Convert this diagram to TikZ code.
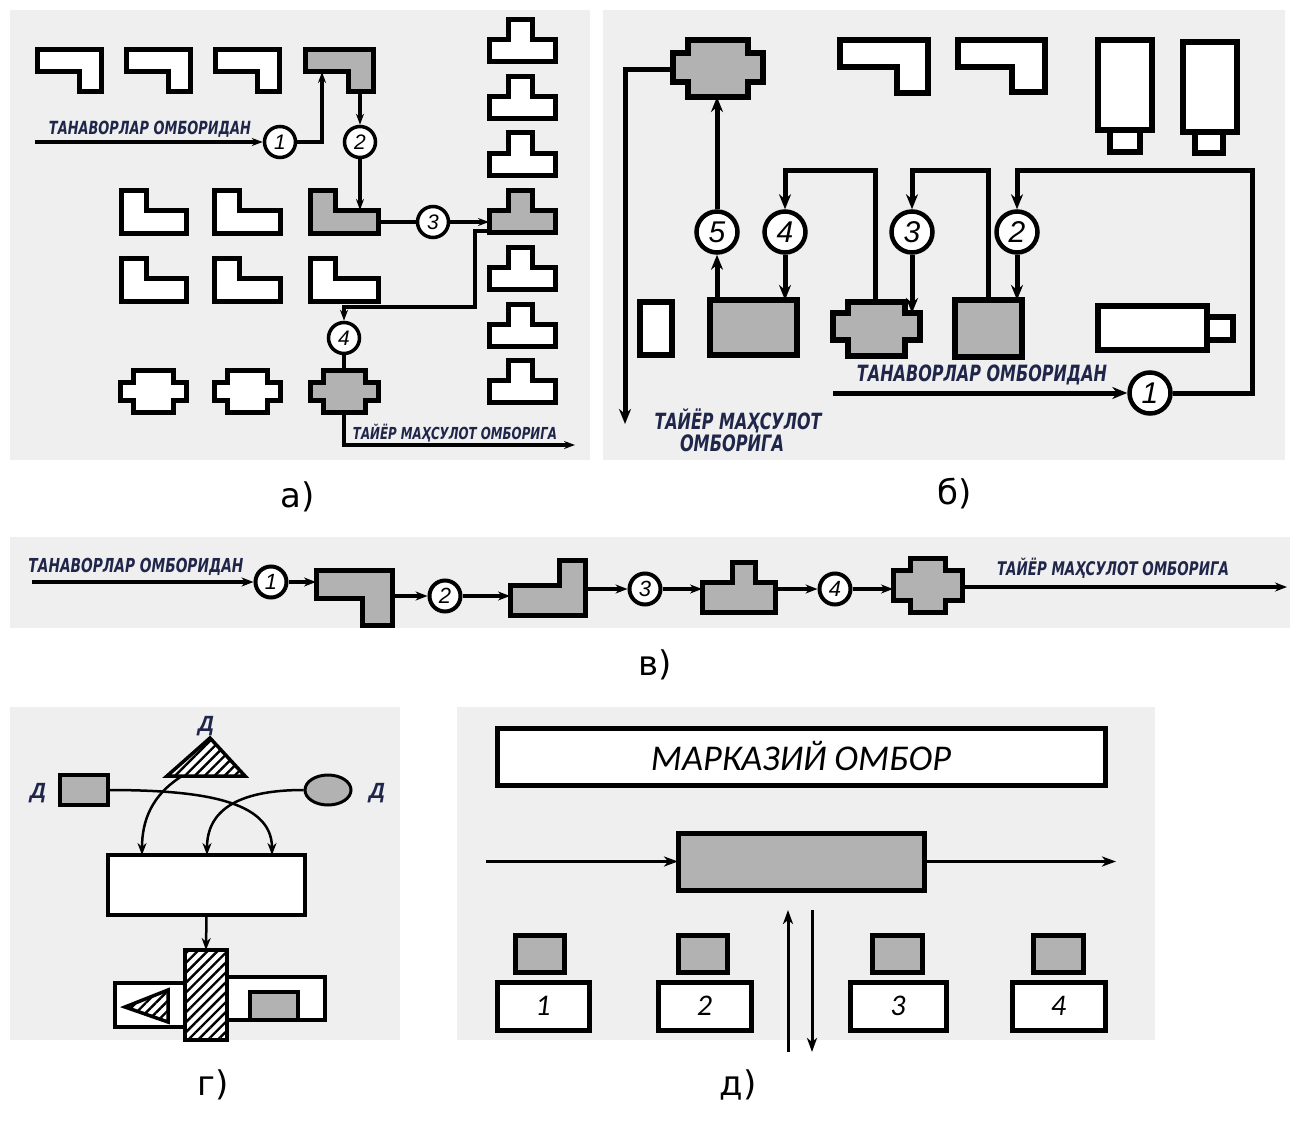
\documentclass[tikz,border=0pt]{standalone}
\usepackage{fontspec}
\usepackage{graphicx}
\setmainfont{DejaVu Sans}
\newfontfamily\lblfont{DejaVu Sans}
\newfontfamily\numfont{Liberation Sans}
\newfontfamily\titfont{Carlito}
\usetikzlibrary{arrows.meta,patterns.meta,shapes.geometric}
\definecolor{panelbg}{RGB}{239,239,239}
\definecolor{shgray}{RGB}{178,178,178}
\definecolor{navy}{RGB}{32,38,74}
\newcommand\lbl[2]{\resizebox{#1pt}{!}{\scalebox{1}[1.4]{\lblfont\bfseries\itshape #2}}}
\newcommand\shpTopL[7]{\draw[#7] (#1,#2) -- (#1+#3,#2) -- (#1+#3,#2+#4) -- (#1+#3-#6,#2+#4) -- (#1+#3-#6,#2+#5) -- (#1,#2+#5) -- cycle;}
\newcommand\shpL[7]{\draw[#7] (#1,#2) -- (#1+#6,#2) -- (#1+#6,#2+#5) -- (#1+#3,#2+#5) -- (#1+#3,#2+#4) -- (#1,#2+#4) -- cycle;}
\newcommand\shpR[7]{\draw[#7] (#1+#3-#6,#2) -- (#1+#3,#2) -- (#1+#3,#2+#4) -- (#1,#2+#4) -- (#1,#2+#5) -- (#1+#3-#6,#2+#5) -- cycle;}
\newcommand\shpT[8]{\draw[#8] (#1+#6,#2) -- (#1+#7,#2) -- (#1+#7,#2+#5) -- (#1+#3,#2+#5) -- (#1+#3,#2+#4) -- (#1,#2+#4) -- (#1,#2+#5) -- (#1+#6,#2+#5) -- cycle;}
\newcommand\shpX[8]{\draw[#8] (#1+#5,#2) -- (#1+#3-#5,#2) -- (#1+#3-#5,#2+#6) -- (#1+#3,#2+#6) -- (#1+#3,#2+#7) -- (#1+#3-#5,#2+#7) -- (#1+#3-#5,#2+#4) -- (#1+#5,#2+#4) -- (#1+#5,#2+#7) -- (#1,#2+#7) -- (#1,#2+#6) -- (#1+#5,#2+#6) -- cycle;}
\newcommand\bx[7][]{\node[#1, anchor=north west, minimum width={(#5-#3)*1pt}, minimum height={(#6-#4)*1pt}, inner sep=0pt, outer sep=0pt] (#2) at (#3,#4) {#7};}
\tikzset{
  shpA/.style={draw=black, line width=5, fill=white, line join=miter},
  shpAg/.style={shpA, fill=shgray},
  shpB/.style={draw=black, line width=6, fill=white, line join=miter},
  shpBg/.style={shpB, fill=shgray},
  shpC/.style={draw=black, line width=5, fill=shgray, line join=miter},
  shpD/.style={draw=black, line width=3.5, fill=white},
  shpDg/.style={shpD, fill=shgray},
  shpE/.style={draw=black, line width=5, fill=white},
  shpEg/.style={shpE, fill=shgray},
  hatch/.style={preaction={fill=white}, pattern={Lines[angle=45,distance=7pt,line width=2.4pt]}},
  conA/.style={line width=3.5, -{Stealth[length=11pt,width=8pt]}},
  conAn/.style={line width=3.5},
  conB/.style={line width=5, -{Stealth[length=15pt,width=12pt]}},
  conBn/.style={line width=5},
  conC/.style={line width=4, -{Stealth[length=12pt,width=9pt]}},
  conD/.style={line width=2.5, -{Stealth[length=12pt,width=9pt]}},
  conE/.style={line width=3, -{Stealth[length=14pt,width=10pt,inset=4pt]}},
  circA/.style={circle, draw, line width=3.5, fill=white, minimum size=31, inner sep=0pt, font=\numfont\itshape\fontsize{21}{21}\selectfont},
  circB/.style={circle, draw, line width=4.5, fill=white, minimum size=41, inner sep=0pt, font=\numfont\itshape\fontsize{30}{30}\selectfont},
  circC/.style={circle, draw, line width=4, fill=white, minimum size=31, inner sep=0pt, font=\numfont\itshape\fontsize{22}{22}\selectfont},
  flow/.style={text=navy, inner sep=0pt},
  dlbl/.style={text=navy, inner sep=0pt, font=\numfont\bfseries\itshape\fontsize{22}{22}\selectfont},
  plbl/.style={inner sep=0pt, font=\fontsize{34}{34}\selectfont}
}
\begin{document}
\begin{tikzpicture}[x=1pt, y=-1pt]
\useasboundingbox (0,0) rectangle (1290,1129);
\fill[white] (0,0) rectangle (1290,1129);
% ================= panel a =================
\fill[panelbg] (10,10) rectangle (590,460);
\shpTopL{37}{50}{64}{42}{22}{22}{shpA}
\shpTopL{126}{50}{64}{42}{22}{22}{shpA}
\shpTopL{215}{50}{64}{42}{22}{22}{shpA}
\shpTopL{305}{50}{68}{42}{22}{25}{shpAg}
\shpL{121}{190}{65}{43}{20}{25}{shpA}
\shpL{214}{190}{66}{43}{20}{25}{shpA}
\shpL{310}{190}{68}{43}{20}{25}{shpAg}
\shpL{121}{258}{65}{43}{20}{25}{shpA}
\shpL{214}{258}{66}{43}{20}{25}{shpA}
\shpL{310}{258}{68}{43}{20}{25}{shpA}
\shpX{120}{370}{66}{42}{13}{12}{30}{shpA}
\shpX{214}{370}{66}{42}{13}{12}{30}{shpA}
\shpX{310}{370}{68}{42}{13}{12}{30}{shpAg}
\shpT{489}{20}{66}{42}{20}{19}{43}{shpA}
\shpT{489}{77}{66}{42}{20}{19}{43}{shpA}
\shpT{489}{133}{66}{42}{20}{19}{43}{shpA}
\shpT{489}{190}{66}{42}{20}{19}{43}{shpAg}
\shpT{489}{247}{66}{42}{20}{19}{43}{shpA}
\shpT{489}{304}{66}{42}{20}{19}{43}{shpA}
\shpT{489}{360}{66}{42}{20}{19}{43}{shpA}
\coordinate (aIn) at (35,142);
\coordinate (aUp) at (322,72);
\coordinate (aLeg) at (360,92);
\coordinate (aLtop) at (360,210);
\coordinate (aLright) at (378,222);
\coordinate (aTleft) at (489,222);
\coordinate (aTbot) at (489,231);
\coordinate (aBus) at (475,307);
\coordinate (aXtop) at (344,370);
\coordinate (aXbot) at (344,412);
\coordinate (aOut) at (575,445);
\node[circA] (a1) at (280,142) {1};
\node[circA] (a2) at (360,142) {2};
\node[circA] (a3) at (433,222) {3};
\node[circA] (a4) at (344,338) {4};
\draw[conA] (aIn) -- (a1);
\draw[conA] (a1) -| (aUp);
\draw[conA] (aLeg) -- (a2);
\draw[conA] (a2) -- (aLtop);
\draw[conAn] (aLright) -- (a3);
\draw[conA] (a3) -- (aTleft);
\draw[conA] (aTbot) -| (aBus) -| (a4);
\draw[conAn] (a4) -- (aXtop);
\draw[conA] (aXbot) |- (aOut);
\node[flow] (aT1) at (150,129) {\lbl{202}{ТАНАВОРЛАР ОМБОРИДАН}};
\node[flow] (aT2) at (455,433) {\lbl{204}{ТАЙЁР МАҲСУЛОТ ОМБОРИГА}};
\node[plbl] (la) at (298,497) {а)};
% ================= panel b =================
\fill[panelbg] (603,10) rectangle (1285,460);
\shpX{673}{40}{90}{57}{15}{13}{42}{shpBg}
\shpTopL{840}{40}{88}{53}{27}{31}{shpB}
\shpTopL{958}{40}{87}{52}{27}{33}{shpB}
\bx[shpB]{bV1}{1098}{40}{1152}{130}{}
\bx[shpB]{bV1s}{1110}{130}{1140}{152}{}
\bx[shpB]{bV2}{1183}{42}{1237}{132}{}
\bx[shpB]{bV2s}{1195}{132}{1223}{153}{}
\bx[shpB]{bSm}{640}{302}{672}{355}{}
\bx[shpBg]{bR}{710}{300}{797}{355}{}
\shpX{833}{302}{87}{54}{15}{11}{38}{shpBg}
\bx[shpBg]{bS}{955}{300}{1022}{357}{}
\bx[shpB]{bH}{1098}{306}{1207}{350}{}
\bx[shpB]{bHs}{1207}{317}{1233}{340}{}
\coordinate (bBus) at (0,170);
\coordinate (bXl) at (673,70);
\coordinate (bOut) at (625,424);
\coordinate (bXb) at (717,97);
\coordinate (bMtop) at (875,302);
\coordinate (bMnotch) at (912,313);
\coordinate (bIn) at (833,393);
\coordinate (bRight) at (1252,393);
\node[circB] (b5) at (717,232) {5};
\node[circB] (b4) at (785,232) {4};
\node[circB] (b3) at (912,232) {3};
\node[circB] (b2) at (1017,232) {2};
\node[circB] (b1) at (1150,393) {1};
\draw[conB] (bXl) -| (bOut);
\draw[conB] (bR.north -| b5) -- (b5);
\draw[conB] (b5) -- (bXb);
\draw[conB] (b4) -- (bR.north -| b4);
\draw[conB] (bMtop) -- (bMtop |- bBus) -| (b4);
\draw[conB] (b3) -- (bMnotch);
\draw[conB] (bS.north) -- (bS.north |- bBus) -| (b3);
\draw[conB] (b2) -- (bS.north -| b2);
\draw[conB] (bIn) -- (b1);
\draw[conB] (b1) -- (bRight) -- (bRight |- bBus) -| (b2);
\node[flow] (bT1) at (982,375) {\lbl{250}{ТАНАВОРЛАР ОМБОРИДАН}};
\node[flow] (bT2) at (738,421) {\lbl{167}{ТАЙЁР МАҲСУЛОТ}};
\node[flow] (bT3) at (732,443) {\lbl{104}{ОМБОРИГА}};
\node[plbl] (lb) at (955,494) {б)};
% ================= panel v =================
\fill[panelbg] (10,537) rectangle (1290,628);
\shpTopL{316}{570}{76}{55}{28}{30}{shpC}
\shpR{510}{560}{75}{55}{25}{26}{shpC}
\shpT{702}{562}{73}{50}{20}{30}{53}{shpC}
\shpX{893}{558}{69}{54}{17}{12}{42}{shpC}
\coordinate (cIn) at (32,582);
\coordinate (c1s) at (316,582);
\coordinate (c1r) at (392,596);
\coordinate (c2s) at (510,596);
\coordinate (c2r) at (585,589);
\coordinate (c3s) at (702,589);
\coordinate (c3r) at (775,589);
\coordinate (c4s) at (893,589);
\coordinate (c4r) at (962,587);
\coordinate (cOut) at (1287,587);
\node[circC] (c1) at (271,582) {1};
\node[circC] (c2) at (445,596) {2};
\node[circC] (c3) at (645,589) {3};
\node[circC] (c4) at (835,589) {4};
\draw[conC] (cIn) -- (c1);
\draw[conC] (c1) -- (c1s);
\draw[conC] (c1r) -- (c2);
\draw[conC] (c2) -- (c2s);
\draw[conC] (c2r) -- (c3);
\draw[conC] (c3) -- (c3s);
\draw[conC] (c3r) -- (c4);
\draw[conC] (c4) -- (c4s);
\draw[conC] (c4r) -- (cOut);
\node[flow] (cT1) at (136,567) {\lbl{215}{ТАНАВОРЛАР ОМБОРИДАН}};
\node[flow] (cT2) at (1113,568) {\lbl{232}{ТАЙЁР МАҲСУЛОТ ОМБОРИГА}};
\node[plbl] (lv) at (655,665) {в)};
% ================= panel g =================
\fill[panelbg] (10,707) rectangle (400,1040);
\draw[shpD, hatch] (167,776) -- (245,776) -- (210,738) -- cycle;
\coordinate (gTri) at (182,776);
\node[dlbl] (gD1) at (206,726) {Д};
\bx[shpDg]{gR}{60}{775}{108}{805}{}
\node[dlbl] (gD2) at (38,793) {Д};
\node[ellipse, draw, line width=3, fill=shgray, minimum width=46, minimum height=30, inner sep=0pt] (gE) at (328,790) {};
\node[dlbl] (gD3) at (377,793) {Д};
\bx[shpD]{gM}{108}{855}{305}{915}{}
\coordinate (gA1) at (142,855);
\coordinate (gA2) at (207,855);
\coordinate (gA3) at (272,855);
\draw[conD] (gTri) .. controls (152,795) and (142,820) .. (gA1);
\draw[conD] (gE.west) .. controls (235,790) and (207,812) .. (gA2);
\draw[conD] (gR.east) .. controls (200,790) and (272,800) .. (gA3);
\bx[shpD]{gBL}{115}{983}{190}{1027}{}
\bx[shpD]{gBR}{222}{977}{325}{1020}{}
\bx[shpD, hatch]{gBar}{185}{950}{227}{1040}{}
\draw[conD] (gM.south) -- (gBar.north);
\draw[shpD, hatch] (125,1007) -- (168,990) -- (168,1022) -- cycle;
\bx[shpDg]{gSq}{250}{992}{298}{1020}{}
\node[plbl] (lg) at (213,1085) {г)};
% ================= panel d =================
\fill[panelbg] (457,707) rectangle (1155,1040);
\bx[shpE]{dT}{497}{728}{1105}{785}{\resizebox{300pt}{!}{\titfont\itshape МАРКАЗИЙ ОМБОР}}
\bx[shpEg]{dG}{678}{833}{924}{890}{}
\coordinate (dIn) at (486,861.5);
\coordinate (dOut) at (1116,861.5);
\draw[conE] (dIn) -- (dG.west);
\draw[conE] (dG.east) -- (dOut);
\coordinate (dUpS) at (788,1052);
\coordinate (dUpE) at (788,910);
\coordinate (dDnS) at (812,910);
\coordinate (dDnE) at (812,1052);
\draw[conE] (dUpS) -- (dUpE);
\draw[conE] (dDnS) -- (dDnE);
\bx[shpEg]{dq1}{515}{935}{564}{972}{}
\bx[shpEg]{dq2}{678}{935}{727}{972}{}
\bx[shpEg]{dq3}{872}{935}{922}{972}{}
\bx[shpEg]{dq4}{1033}{935}{1083}{972}{}
\bx[shpE]{dw1}{497}{982}{589}{1030}{\titfont\itshape\fontsize{30}{30}\selectfont 1}
\bx[shpE]{dw2}{658}{982}{751}{1030}{\titfont\itshape\fontsize{30}{30}\selectfont 2}
\bx[shpE]{dw3}{850}{982}{946}{1030}{\titfont\itshape\fontsize{30}{30}\selectfont 3}
\bx[shpE]{dw4}{1012}{982}{1105}{1030}{\titfont\itshape\fontsize{30}{30}\selectfont 4}
\node[plbl] (ld) at (738,1085) {д)};
\end{tikzpicture}
\end{document}
